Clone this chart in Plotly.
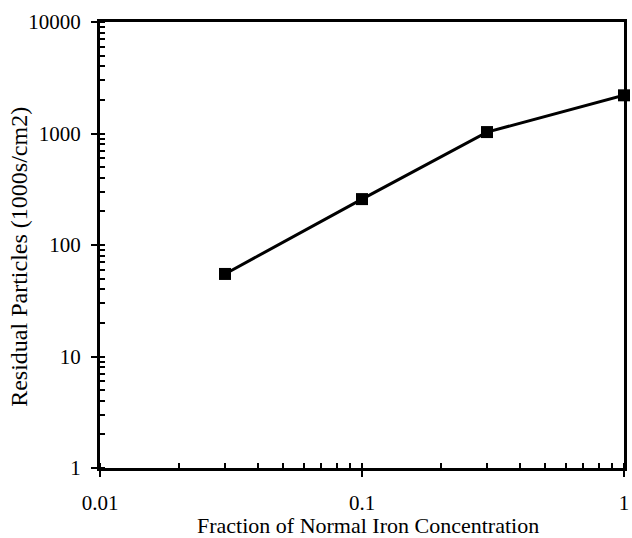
import plotly.graph_objects as go

fraction = [0.03, 0.1, 0.3, 1.0]
particles = [55, 258, 1030, 2200]
x_ticks = [0.01, 0.1, 1]
x_tick_labels = ["0.01", "0.1", "1"]
y_ticks = [1, 10, 100, 1000, 10000]
y_tick_labels = ["1", "10", "100", "1000", "10000"]
x_title = "Fraction of Normal Iron Concentration"
y_title = "Residual Particles (1000s/cm2)"

fam = "Liberation Serif, Times New Roman, serif"
tick_font = dict(family=fam, size=21, color="black")
xtitle_font = dict(family=fam, size=22, color="black")
ytitle_font = dict(family=fam, size=24, color="black")

fig = go.Figure()
fig.add_trace(go.Scatter(
    x=fraction, y=particles, mode="lines+markers",
    line=dict(color="black", width=3),
    marker=dict(symbol="square", size=12, color="black"),
    cliponaxis=False, showlegend=False,
))

axis_common = dict(
    showgrid=False, zeroline=False, showline=True, linecolor="black", linewidth=3,
    mirror=True, ticks="outside", ticklen=6, tickwidth=2, tickcolor="black",
    tickfont=tick_font,
)
fig.update_xaxes(
    type="log", range=[-2, 0], tickvals=x_ticks, ticktext=x_tick_labels,
    minor=dict(ticks="inside", ticklen=5, tickwidth=1.5, tickcolor="black", dtick="D1"),
    ticklabelstandoff=8,
    **axis_common,
)
fig.update_yaxes(
    type="log", range=[0, 4], tickvals=y_ticks, ticktext=y_tick_labels,
    minor=dict(ticks="inside", ticklen=5, tickwidth=1.5, tickcolor="black", dtick="D1"),
    ticklabelstandoff=6,
    **axis_common,
)
fig.add_annotation(
    text=x_title, xref="paper", yref="paper", x=0.512, y=-0.129,
    xanchor="center", yanchor="middle", showarrow=False, font=xtitle_font,
    borderpad=0,
)
fig.add_annotation(
    text=y_title, xref="paper", yref="paper", x=-0.155, y=0.473, textangle=-90,
    xanchor="center", yanchor="middle", showarrow=False, font=ytitle_font,
)
fig.update_layout(
    width=632, height=538,
    margin=dict(l=100, r=3, t=22, b=70),
    paper_bgcolor="white", plot_bgcolor="white",
    font=tick_font,
)
fig.write_html("out.html")
